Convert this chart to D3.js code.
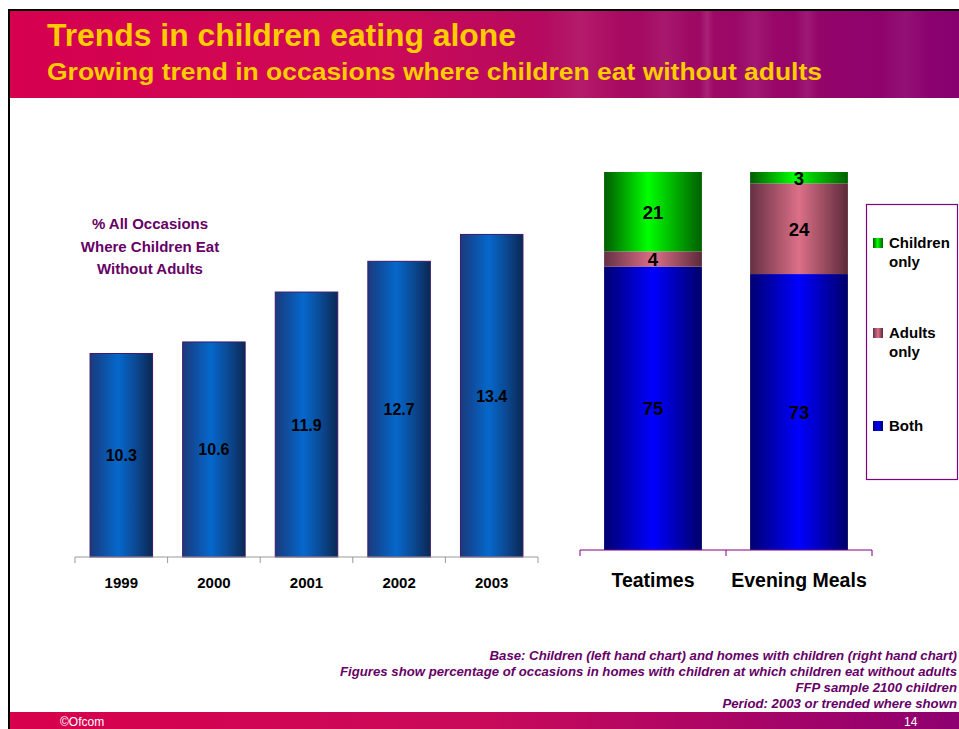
<!DOCTYPE html>
<html>
<head>
<meta charset="utf-8">
<script src="https://cdn.jsdelivr.net/npm/d3@7"></script>
<style>
html,body{margin:0;padding:0;background:#fff;}
svg{display:block;}
</style>
</head>
<body>
<script>
// ---- Data ----
const years = ["1999", "2000", "2001", "2002", "2003"];
const aloneValues = [10.3, 10.6, 11.9, 12.7, 13.4];
const leftTitleLines = ["% All Occasions", "Where Children Eat", "Without Adults"];

const mealCategories = ["Teatimes", "Evening Meals"];
const seriesNames = ["Both", "Adults only", "Children only"];
const bothValues = [75, 73];
const adultsOnlyValues = [4, 24];
const childrenOnlyValues = [21, 3];

const footnotes = [
  "Base: Children (left hand chart) and homes with children (right hand chart)",
  "Figures show percentage of occasions in homes with children at which children eat without adults",
  "FFP sample 2100 children",
  "Period: 2003 or trended where shown"
];

const W = 959, H = 729;
const svg = d3.select("body").append("svg").attr("width", W).attr("height", H);
const defs = svg.append("defs");

function hGrad(id, stops) {
  const g = defs.append("linearGradient").attr("id", id)
    .attr("x1", "0%").attr("x2", "100%").attr("y1", "0%").attr("y2", "0%");
  stops.forEach(s => g.append("stop").attr("offset", s[0]).attr("stop-color", s[1]));
}
hGrad("band", [[0, "#d6004f"], [0.4, "#cc0a58"], [0.7, "#a00a64"], [1, "#880070"]]);
hGrad("foot", [[0, "#d8004c"], [0.5, "#c80a5a"], [1, "#8e0070"]]);
hGrad("leftBar", [[0, "#1c3a7c"], [0.18, "#104c9c"], [0.45, "#0568cc"], [0.72, "#0b4a95"], [1, "#0a2854"]]);
hGrad("gBoth", [[0, "#000070"], [0.5, "#0000ff"], [1, "#000068"]]);
hGrad("gAdults", [[0, "#663044"], [0.5, "#dc7088"], [1, "#5c2a3a"]]);
hGrad("gChildren", [[0, "#005c00"], [0.45, "#00ff00"], [1, "#006000"]]);
hGrad("streak", [[0, "rgba(255,255,255,0)"], [0.5, "rgba(255,255,255,1)"], [1, "rgba(255,255,255,0)"]]);
const seriesFill = {"Both": "url(#gBoth)", "Adults only": "url(#gAdults)", "Children only": "url(#gChildren)"};

// ---- Slide frame ----
svg.append("rect").attr("x", 8).attr("y", 9).attr("width", W - 8).attr("height", H - 9).attr("fill", "#000");
svg.append("rect").attr("x", 10).attr("y", 11).attr("width", W - 10).attr("height", H - 11).attr("fill", "#fff");

// header band
svg.append("rect").attr("x", 10).attr("y", 11).attr("width", W - 10).attr("height", 87).attr("fill", "url(#band)");
// faint streak texture
const streaks = [[540, 0.07, 80], [640, 0.06, 50], [700, 0.1, 14], [735, 0.07, 40], [795, 0.08, 24], [880, 0.06, 50]];
streaks.forEach(s => svg.append("rect").attr("x", s[0]).attr("y", 11).attr("width", s[2]).attr("height", 87)
  .attr("fill", "url(#streak)").attr("opacity", s[1]));

svg.append("text").attr("x", 47).attr("y", 46).text("Trends in children eating alone")
  .attr("font-family", "'Liberation Sans Narrow', 'Liberation Sans', Arial, sans-serif")
  .attr("font-weight", "bold").attr("font-size", 31).attr("fill", "#ffcc00")
  .attr("textLength", 469).attr("lengthAdjust", "spacingAndGlyphs");
svg.append("text").attr("x", 47).attr("y", 80).text("Growing trend in occasions where children eat without adults")
  .attr("font-family", "'Liberation Sans Narrow', 'Liberation Sans', Arial, sans-serif")
  .attr("font-weight", "bold").attr("font-size", 23).attr("fill", "#ffcc00")
  .attr("textLength", 775).attr("lengthAdjust", "spacingAndGlyphs");

// footer band
svg.append("rect").attr("x", 10).attr("y", 712).attr("width", W - 10).attr("height", 17).attr("fill", "url(#foot)");
svg.append("text").attr("x", 60).attr("y", 726).text("©Ofcom")
  .attr("font-family", "'Liberation Sans', Arial, sans-serif").attr("font-size", 12).attr("fill", "#fff");
svg.append("text").attr("x", 904).attr("y", 726).text("14")
  .attr("font-family", "'Liberation Sans', Arial, sans-serif").attr("font-size", 12).attr("fill", "#fff");

// footnotes
footnotes.forEach((t, i) => {
  svg.append("text").attr("x", 957).attr("y", 660 + i * 16).attr("text-anchor", "end").text(t)
    .attr("font-family", "'Liberation Sans', Arial, sans-serif").attr("font-weight", "bold")
    .attr("font-style", "italic").attr("font-size", 13.2).attr("fill", "#660066");
});

const FONT = "'Liberation Sans', Arial, sans-serif";

// ---- Left chart ----
const xL = d3.scaleBand().domain(years).range([75, 538]).paddingInner(0.325).paddingOuter(0.1625);
const yL = d3.scaleLinear().domain([5, 15]).range([557, 173]);
const stepL = xL.step();

const leftG = svg.append("g");
leftG.selectAll("rect.bar").data(years).enter().append("rect").attr("class", "bar")
  .attr("x", d => xL(d)).attr("width", xL.bandwidth())
  .attr("y", (d, i) => yL(aloneValues[i])).attr("height", (d, i) => yL(5) - yL(aloneValues[i]))
  .attr("fill", "url(#leftBar)").attr("stroke", "#3c1a6c").attr("stroke-width", 1);

leftG.selectAll("text.val").data(years).enter().append("text").attr("class", "val")
  .attr("x", d => xL(d) + xL.bandwidth() / 2)
  .attr("y", (d, i) => (yL(aloneValues[i]) + yL(5)) / 2 + 6)
  .attr("text-anchor", "middle").text((d, i) => aloneValues[i].toFixed(1))
  .attr("font-family", FONT).attr("font-weight", "bold").attr("font-size", 16).attr("fill", "#000");

// x axis
const axL = d3.axisBottom(xL).tickSize(0).tickPadding(0);
const gAxL = leftG.append("g").attr("transform", "translate(0,557)").call(axL);
gAxL.select(".domain").attr("stroke", "#999").attr("d", "M75,0H538");
gAxL.selectAll(".tick text").attr("y", 31).attr("dy", 0).attr("font-family", FONT).attr("font-weight", "bold")
  .attr("font-size", 15).attr("fill", "#000");
const edgesL = years.map(d => xL(d) - stepL * xL.paddingInner() / 2).concat([538]);
edgesL[0] = 75;
gAxL.selectAll("line.edge").data(edgesL).enter().append("line").attr("class", "edge")
  .attr("x1", d => d).attr("x2", d => d).attr("y1", 0).attr("y2", 6).attr("stroke", "#999");

leftTitleLines.forEach((t, i) => {
  leftG.append("text").attr("x", 150).attr("y", 229 + i * 22.5).attr("text-anchor", "middle").text(t)
    .attr("font-family", FONT).attr("font-weight", "bold").attr("font-size", 15).attr("fill", "#660066");
});

// ---- Right chart ----
const xR = d3.scaleBand().domain(mealCategories).range([580, 872]).paddingInner(0.33).paddingOuter(0.165);
const yR = d3.scaleLinear().domain([0, 100]).range([550, 172]);
const tableR = mealCategories.map((c, i) => ({
  cat: c, "Both": bothValues[i], "Adults only": adultsOnlyValues[i], "Children only": childrenOnlyValues[i]
}));
const stacked = d3.stack().keys(seriesNames)(tableR);

const rightG = svg.append("g");
stacked.forEach(layer => {
  const g = rightG.append("g");
  g.selectAll("rect").data(layer).enter().append("rect")
    .attr("x", d => xR(d.data.cat)).attr("width", xR.bandwidth())
    .attr("y", d => yR(d[1])).attr("height", d => yR(d[0]) - yR(d[1]))
    .attr("fill", seriesFill[layer.key]);
  g.selectAll("text").data(layer).enter().append("text")
    .attr("x", d => xR(d.data.cat) + xR.bandwidth() / 2)
    .attr("y", d => (yR(d[0]) + yR(d[1])) / 2 + 7)
    .attr("text-anchor", "middle").text(d => d.data[layer.key])
    .attr("font-family", FONT).attr("font-weight", "bold").attr("font-size", 18.5).attr("fill", "#000");
});

const axR = d3.axisBottom(xR).tickSize(0).tickPadding(0);
const gAxR = rightG.append("g").attr("transform", "translate(0,550)").call(axR);
gAxR.select(".domain").attr("stroke", "#800080").attr("d", "M580,0H872");
gAxR.selectAll(".tick text").attr("y", 37).attr("dy", 0).attr("font-family", FONT).attr("font-weight", "bold")
  .attr("font-size", 19.5).attr("fill", "#000");
const edgesR = [580, (xR(mealCategories[0]) + xR.bandwidth() + xR(mealCategories[1])) / 2, 872];
gAxR.selectAll("line.edge").data(edgesR).enter().append("line").attr("class", "edge")
  .attr("x1", d => d).attr("x2", d => d).attr("y1", 0).attr("y2", 6).attr("stroke", "#800080");

// legend
const lg = svg.append("g");
lg.append("rect").attr("x", 866.5).attr("y", 204.5).attr("width", 91).attr("height", 275)
  .attr("fill", "#fff").attr("stroke", "#800080").attr("stroke-width", 1.2);
const legendItems = [
  {key: "Children only", lines: ["Children", "only"], y: 248},
  {key: "Adults only", lines: ["Adults", "only"], y: 338},
  {key: "Both", lines: ["Both"], y: 431}
];
legendItems.forEach(it => {
  lg.append("rect").attr("x", 873).attr("y", it.y - 10).attr("width", 10).attr("height", 10)
    .attr("fill", seriesFill[it.key]);
  it.lines.forEach((l, j) => {
    lg.append("text").attr("x", 889).attr("y", it.y + j * 18.5).text(l)
      .attr("font-family", FONT).attr("font-weight", "bold").attr("font-size", 15).attr("fill", "#000");
  });
});
</script>
</body>
</html>
